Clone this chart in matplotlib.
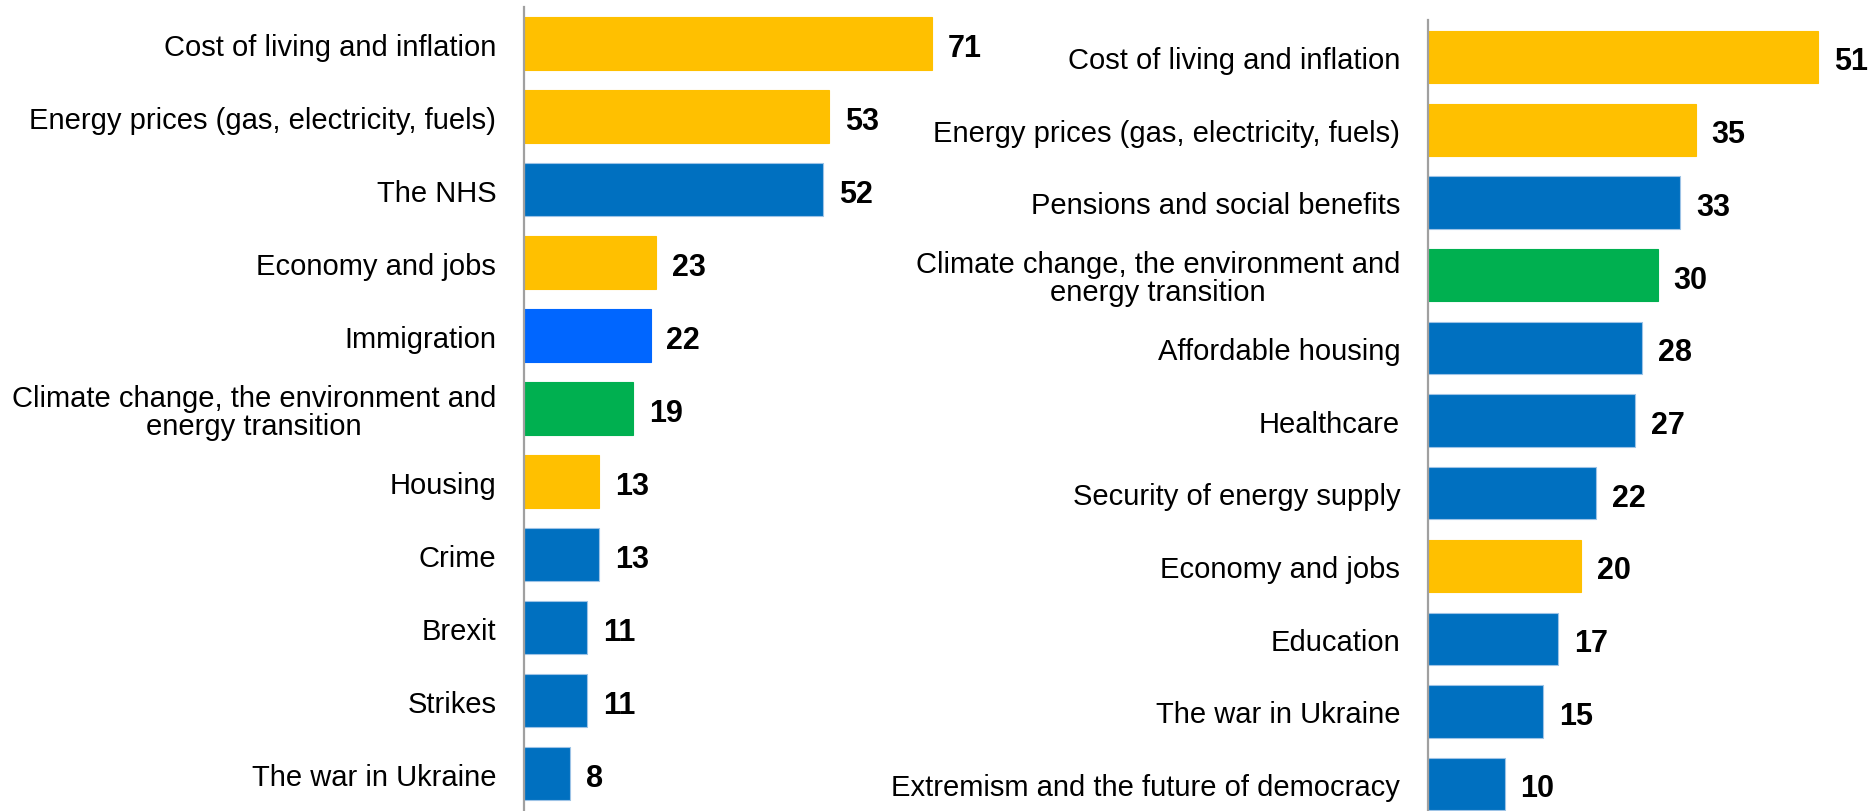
import matplotlib
matplotlib.use("Agg")
import matplotlib.pyplot as plt

plt.rcParams['font.family'] = ['Liberation Sans', 'DejaVu Sans']

YELLOW = "#FFC000"
BLUE = "#0070C0"
BRIGHT_BLUE = "#0066FF"
GREEN = "#00B050"

# Left panel: United Kingdom
uk_topics = [
    "Cost of living and inflation",
    "Energy prices (gas, electricity, fuels)",
    "The NHS",
    "Economy and jobs",
    "Immigration",
    "Climate change, the environment and\nenergy transition",
    "Housing",
    "Crime",
    "Brexit",
    "Strikes",
    "The war in Ukraine",
]
uk_values = [71, 53, 52, 23, 22, 19, 13, 13, 11, 11, 8]
uk_colors = [YELLOW, YELLOW, BLUE, YELLOW, BRIGHT_BLUE, GREEN,
             YELLOW, BLUE, BLUE, BLUE, BLUE]

# Right panel
eu_topics = [
    "Cost of living and inflation",
    "Energy prices (gas, electricity, fuels)",
    "Pensions and social benefits",
    "Climate change, the environment and\nenergy transition",
    "Affordable housing",
    "Healthcare",
    "Security of energy supply",
    "Economy and jobs",
    "Education",
    "The war in Ukraine",
    "Extremism and the future of democracy",
]
eu_values = [51, 35, 33, 30, 28, 27, 22, 20, 17, 15, 10]
eu_colors = [YELLOW, YELLOW, BLUE, GREEN, BLUE, BLUE,
             BLUE, YELLOW, BLUE, BLUE, BLUE]

W, H = 1868, 812
fig = plt.figure(figsize=(W / 100, H / 100), dpi=100)


def panel(rect, topics, values, colors, xmax, ylim):
    ax = fig.add_axes(rect)
    y = list(range(len(topics)))
    edges = ["#9DC3E6" if c == BLUE else c for c in colors]
    ax.barh(y, values, height=0.72, color=colors, edgecolor=edges, linewidth=0.8)
    ax.set_xlim(0, xmax)
    ax.set_ylim(*ylim)
    ax.set_yticks(y)
    ax.set_yticklabels(topics, fontsize=21, multialignment="center",
                       linespacing=1.0)
    ax.tick_params(axis="y", length=0, pad=20)
    ax.set_xticks([])
    for s in ("top", "right", "bottom"):
        ax.spines[s].set_visible(False)
    ax.spines["left"].set_color("#A0A0A0")
    ax.spines["left"].set_linewidth(1.6)
    for yi, v in zip(y, values):
        ax.annotate(f"{v}", xy=(v, yi), xytext=(11.5, -8.9),
                    textcoords="offset points", ha="left", va="baseline",
                    fontsize=22, fontweight="bold", color="black")
    return ax


# left axes: x 524 -> 1000 px, y 8 -> 812 px
panel([524 / W, 0.0, (1000 - 524) / W, (812 - 8) / H],
      uk_topics, uk_values, uk_colors, (1000 - 524) / 5.75, (10.51, -0.5))

# right axes: x 1428 -> 1868 px, y 21 -> 812 px
panel([1428 / W, 0.0, (1868 - 1428) / W, (812 - 21) / H],
      eu_topics, eu_values, eu_colors, (1868 - 1428) / 7.65, (10.37, -0.51))

fig.savefig("out.png", dpi=100, facecolor="white")
